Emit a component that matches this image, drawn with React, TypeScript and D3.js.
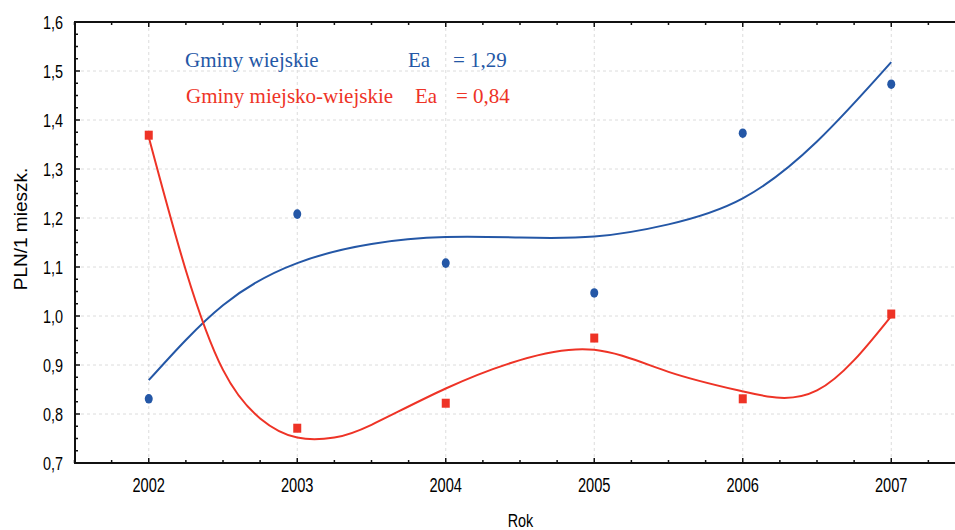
import React, { useRef, useEffect } from "react";
import * as d3 from "d3";

// measured points
const years = [2002, 2003, 2004, 2005, 2006, 2007];
const gminyWiejskie = [0.831, 1.208, 1.108, 1.047, 1.373, 1.473];
const gminyMiejskoWiejskie = [1.369, 0.771, 0.822, 0.955, 0.831, 1.004];

// fitted curves
const fitYearsBlue = [2002, 2002.5, 2003, 2003.5, 2004, 2004.5, 2005, 2005.5, 2006, 2006.5, 2007];
const fitBlue = [0.869, 1.022, 1.108, 1.147, 1.161, 1.16, 1.162, 1.187, 1.24, 1.356, 1.518];
const fitYearsRed = [2002, 2002.25, 2002.5, 2002.75, 2003, 2003.25, 2003.5, 2004, 2004.5, 2005, 2005.5, 2006, 2006.5, 2007];
const fitRed = [1.365, 1.093, 0.89, 0.791, 0.752, 0.752, 0.778, 0.852, 0.91, 0.931, 0.886, 0.846, 0.848, 1.0];

const yTicks = [0.7, 0.8, 0.9, 1.0, 1.1, 1.2, 1.3, 1.4, 1.5, 1.6];

const BLUE = "#2457a6";
const RED = "#ee3326";
const SANS = "Liberation Sans, Arial, sans-serif";

export default function App() {
  const ref = useRef(null);

  useEffect(() => {
    const svg = d3.select(ref.current);
    svg.selectAll("*").remove();

    const x = d3.scaleLinear().domain([2001.5, 2007.5]).range([74.5, 965.5]);
    const y = d3.scaleLinear().domain([0.7, 1.6]).range([463, 22]);
    const left = 75, top = 22, bottom = 463, right = 955;

    // grid
    const grid = svg.append("g");
    grid.selectAll("line.gx")
      .data(years)
      .enter().append("line")
      .attr("x1", d => x(d)).attr("x2", d => x(d))
      .attr("y1", top).attr("y2", bottom)
      .attr("stroke", "#dcdcdc").attr("stroke-dasharray", "3,3").attr("stroke-width", 1);
    grid.selectAll("line.gy")
      .data(yTicks.slice(1, -1))
      .enter().append("line")
      .attr("x1", left).attr("x2", right)
      .attr("y1", d => y(d)).attr("y2", d => y(d))
      .attr("stroke", "#dcdcdc").attr("stroke-dasharray", "3,3").attr("stroke-width", 1);

    // ticks
    const xMinor = d3.range(2001.5, 2007.51, 0.25);
    const yMinor = d3.range(0.7, 1.601, 0.025);
    const isMajorX = d => Math.abs(d - Math.round(d)) < 1e-6;
    const isMajorY = d => Math.abs(d * 10 - Math.round(d * 10)) < 1e-6;
    const ticks = svg.append("g").attr("stroke", "#111").attr("stroke-width", 1.5);
    ticks.selectAll("line.tb")
      .data(xMinor)
      .enter().append("line")
      .attr("x1", d => x(d)).attr("x2", d => x(d))
      .attr("y1", bottom).attr("y2", d => bottom - (isMajorX(d) ? 5 : 3));
    ticks.selectAll("line.tt")
      .data(xMinor)
      .enter().append("line")
      .attr("x1", d => x(d)).attr("x2", d => x(d))
      .attr("y1", top).attr("y2", d => top + (isMajorX(d) ? 5 : 3));
    ticks.selectAll("line.tl")
      .data(yMinor)
      .enter().append("line")
      .attr("y1", d => y(d)).attr("y2", d => y(d))
      .attr("x1", left).attr("x2", d => left + (isMajorY(d) ? 5 : 3));

    // axis lines
    svg.append("path")
      .attr("d", `M${right},${top}H${left}V${bottom}H${right}`)
      .attr("fill", "none").attr("stroke", "#111").attr("stroke-width", 2);

    // tick labels
    svg.append("g").selectAll("text")
      .data(yTicks)
      .enter().append("text")
      .attr("transform", d => `translate(63,${y(d) + 6.5}) scale(0.78,1)`)
      .attr("text-anchor", "end")
      .attr("font-family", SANS)
      .attr("font-size", 18.5)
      .attr("fill", "#000")
      .text(d => d3.format(".1f")(d).replace(".", ","));
    svg.append("g").selectAll("text")
      .data(years)
      .enter().append("text")
      .attr("transform", d => `translate(${x(d)},492) scale(0.75,1)`)
      .attr("text-anchor", "middle")
      .attr("font-family", SANS)
      .attr("font-size", 19.5)
      .attr("fill", "#000")
      .text(d => d);

    svg.append("text")
      .attr("transform", "translate(520.5,527) scale(0.8,1)")
      .attr("text-anchor", "middle")
      .attr("font-family", SANS)
      .attr("font-size", 18)
      .attr("fill", "#000")
      .text("Rok");
    svg.append("text")
      .attr("transform", "translate(27,229) rotate(-90)")
      .attr("text-anchor", "middle")
      .attr("font-family", SANS)
      .attr("font-size", 19)
      .attr("fill", "#000")
      .text("PLN/1 mieszk.");

    // fitted curves
    const line = d3.line().x(d => x(d[0])).y(d => y(d[1])).curve(d3.curveNatural);
    svg.append("path")
      .attr("d", line(fitYearsBlue.map((d, i) => [d, fitBlue[i]])))
      .attr("fill", "none").attr("stroke", BLUE).attr("stroke-width", 2);
    svg.append("path")
      .attr("d", line(fitYearsRed.map((d, i) => [d, fitRed[i]])))
      .attr("fill", "none").attr("stroke", RED).attr("stroke-width", 2);

    // points
    svg.append("g").selectAll("ellipse")
      .data(years)
      .enter().append("ellipse")
      .attr("cx", d => x(d))
      .attr("cy", (d, i) => y(gminyWiejskie[i]))
      .attr("rx", 4).attr("ry", 4.8)
      .attr("fill", BLUE);
    svg.append("g").selectAll("rect")
      .data(years)
      .enter().append("rect")
      .attr("x", d => x(d) - 4)
      .attr("y", (d, i) => y(gminyMiejskoWiejskie[i]) - 4.5)
      .attr("width", 8).attr("height", 9)
      .attr("fill", RED);

    // legend
    const legend = svg.append("g")
      .attr("font-family", "Liberation Serif, Times New Roman, serif")
      .attr("font-size", 21);
    const rows = [
      { label: "Gminy wiejskie", x0: 185, ea: 408, eq: 453, val: "= 1,29", yy: 67, color: BLUE },
      { label: "Gminy miejsko-wiejskie", x0: 186, ea: 415, eq: 456, val: "= 0,84", yy: 103, color: RED },
    ];
    rows.forEach(r => {
      legend.append("text").attr("x", r.x0).attr("y", r.yy).attr("fill", r.color).text(r.label);
      legend.append("text").attr("x", r.ea).attr("y", r.yy).attr("fill", r.color).text("Ea");
      legend.append("text").attr("x", r.eq).attr("y", r.yy).attr("fill", r.color).text(r.val);
    });
  }, []);

  return (
    <svg
      ref={ref}
      width={955}
      height={530}
      style={{ position: "absolute", left: 0, top: 0, background: "#fff" }}
    />
  );
}
